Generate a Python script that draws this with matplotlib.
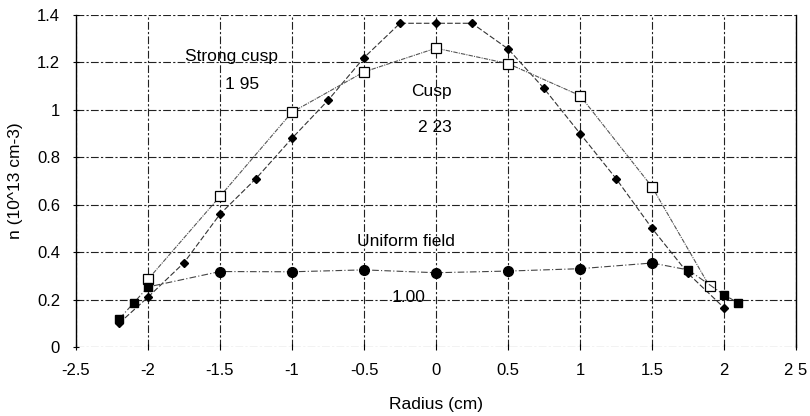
import matplotlib
matplotlib.use("Agg")
import matplotlib.pyplot as plt

plt.rcParams["font.family"] = ["Liberation Sans", "DejaVu Sans"]

# Strong peaked profile (small filled dots)
strong_r = [-2.2, -2.0, -1.75, -1.5, -1.25, -1.0, -0.75, -0.5, -0.25, 0.0, 0.25,
            0.5, 0.75, 1.0, 1.25, 1.5, 1.75, 2.0]
strong_n = [0.10, 0.21, 0.355, 0.56, 0.71, 0.88, 1.04, 1.22, 1.365, 1.365, 1.365,
            1.257, 1.09, 0.90, 0.71, 0.50, 0.31, 0.165]

# Cusp profile (open squares)
cusp_r = [-2.0, -1.5, -1.0, -0.5, 0.0, 0.5, 1.0, 1.5, 1.9]
cusp_n = [0.285, 0.635, 0.99, 1.16, 1.26, 1.195, 1.06, 0.675, 0.255]

# Uniform field profile (filled circles, squares at the ends)
unif_r = [-2.2, -2.1, -2.0, -1.5, -1.0, -0.5, 0.0, 0.5, 1.0, 1.5, 1.75, 2.0, 2.1]
unif_n = [0.118, 0.185, 0.253, 0.318, 0.317, 0.325, 0.313, 0.32, 0.33, 0.354,
          0.325, 0.22, 0.185]
unif_mid = slice(3, 10)

x_ticks = [-2.5, -2, -1.5, -1, -0.5, 0, 0.5, 1, 1.5, 2, 2.5]
x_labels = ["-2.5", "-2", "-1.5", "-1", "-0.5", "0", "0.5", "1", "1.5", "2", "2 5"]
y_ticks = [0, 0.2, 0.4, 0.6, 0.8, 1.0, 1.2, 1.4]
y_labels = ["0", "0.2", "0.4", "0.6", "0.8", "1", "1.2", "1.4"]

labels = [("Strong cusp", -1.42, 1.224), ("1 95", -1.35, 1.105),
          ("Cusp", -0.03, 1.076), ("2 23", -0.01, 0.924),
          ("Uniform field", -0.21, 0.443), ("1.00", -0.19, 0.21)]

fig = plt.figure(figsize=(8.1, 4.16), dpi=100)
ax = fig.add_axes([0.0938, 0.166, 0.889, 0.798])

ax.grid(True, color="#222222", linestyle=(0, (7, 2, 2, 2)), linewidth=0.8)
ax.set_axisbelow(True)

ax.plot(strong_r, strong_n, color="#333333", linestyle=(0, (5, 2)), linewidth=0.8,
        marker="D", markersize=4.5, markerfacecolor="black", markeredgecolor="black")
ax.plot(cusp_r, cusp_n, color="#555555", linestyle=(0, (4, 1, 1, 1)), linewidth=0.8,
        marker="s", markersize=7, markerfacecolor="white", markeredgecolor="black",
        markeredgewidth=0.9)
ax.plot(unif_r, unif_n, color="#444444", linestyle=(0, (6, 2, 1, 2)), linewidth=0.8)
ax.plot(unif_r[unif_mid], unif_n[unif_mid], linestyle="none", marker="o",
        markersize=7, color="black")
ax.plot(unif_r[:3] + unif_r[10:], unif_n[:3] + unif_n[10:], linestyle="none",
        marker="s", markersize=6, color="black")

for txt, x, y in labels:
    ax.text(x, y, txt, fontsize=12.5, ha="center", va="center")

ax.set_xlim(-2.5, 2.5)
ax.set_ylim(0, 1.4)
ax.set_xticks(x_ticks)
ax.set_xticklabels(x_labels, fontsize=12)
ax.set_yticks(y_ticks)
ax.set_yticklabels(y_labels, fontsize=12)
ax.tick_params(direction="inout", length=5, width=0.8, pad=9)

for side in ["top", "bottom"]:
    ax.spines[side].set_visible(False)
ax.spines["left"].set_linewidth(1.0)
ax.spines["right"].set_linewidth(1.0)

ax.set_xlabel("Radius (cm)", fontsize=12.5, labelpad=14)
ax.set_ylabel("n (10^13 cm-3)", fontsize=12.5, labelpad=10)

fig.savefig("out.png", dpi=100)
